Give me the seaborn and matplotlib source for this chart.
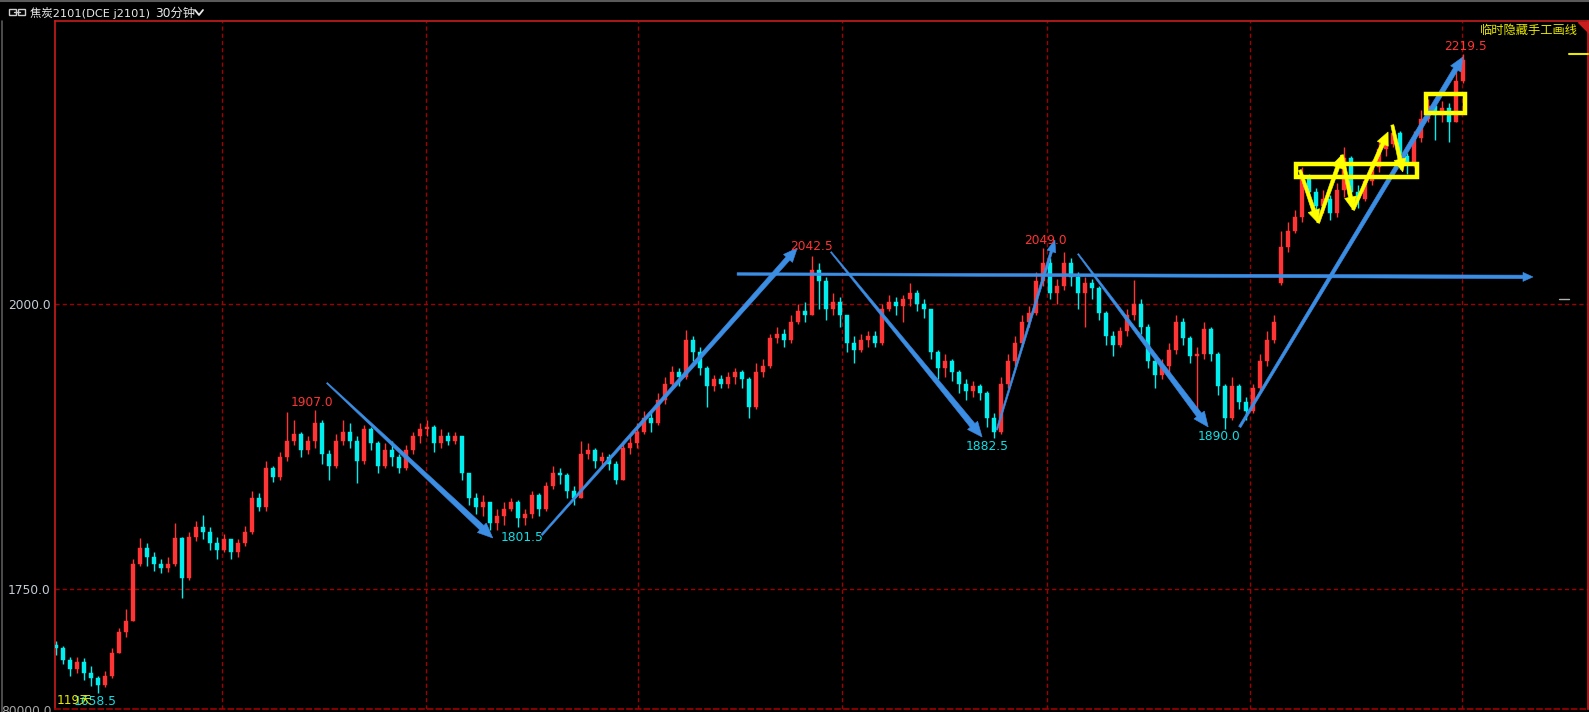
import numpy as np
import matplotlib
matplotlib.use("Agg")
import matplotlib.pyplot as plt
from matplotlib.patches import Polygon, Rectangle
from matplotlib.lines import Line2D
import seaborn as sns

# ---------------- data (30-minute bars, 焦炭2101) ----------------
first_open = 1701
gap_opens = {175: 2018}   # bar that opened with a gap above the previous close
closes = [
    1698, 1688, 1680, 1686, 1676, 1672, 1666, 1674, 1694, 1712,
    1722, 1772, 1786, 1778, 1772, 1768, 1772, 1795, 1760, 1796,
    1804, 1800, 1790, 1784, 1794, 1782, 1790, 1800, 1830, 1822,
    1856, 1848, 1866, 1880, 1886, 1872, 1880, 1896, 1868, 1858,
    1880, 1888, 1880, 1862, 1890, 1878, 1858, 1872, 1866, 1856,
    1872, 1884, 1890, 1892, 1878, 1884, 1880, 1884, 1852, 1830,
    1822, 1826, 1808, 1814, 1820, 1826, 1812, 1816, 1832, 1820,
    1840, 1852, 1850, 1836, 1830, 1868, 1872, 1862, 1866, 1860,
    1846, 1874, 1878, 1888, 1900, 1896, 1916, 1930, 1940, 1936,
    1968, 1958, 1944, 1928, 1934, 1930, 1936, 1940, 1934, 1910,
    1940, 1946, 1970, 1974, 1968, 1984, 1994, 1990, 2030, 2020,
    1996, 2002, 1990, 1966, 1960, 1968, 1972, 1966, 1996, 2002,
    1998, 2004, 2010, 2000, 1996, 1958, 1944, 1950, 1940, 1930,
    1924, 1928, 1922, 1900, 1888, 1930, 1950, 1966, 1984, 1992,
    2020, 2036, 2010, 2016, 2036, 2024, 2010, 2018, 2014, 1992,
    1972, 1964, 1976, 1990, 2000, 1980, 1950, 1938, 1946, 1960,
    1984, 1970, 1954, 1956, 1978, 1956, 1928, 1900, 1928, 1914,
    1906, 1926, 1950, 1968, 1984, 2050, 2064, 2076, 2112, 2098,
    2086, 2092, 2080, 2100, 2128, 2098, 2092, 2108, 2120, 2136,
    2140, 2150, 2130, 2122, 2146, 2162, 2174, 2166, 2172, 2160,
    2196, 2214,
]
highs = [
    1704, 1700, 1690, 1690, 1689, 1682, 1674, 1678, 1698, 1716,
    1732, 1776, 1795, 1790, 1782, 1776, 1778, 1808, 1796, 1800,
    1810, 1815, 1804, 1796, 1798, 1794, 1794, 1805, 1836, 1834,
    1862, 1858, 1870, 1905, 1898, 1888, 1884, 1907, 1898, 1872,
    1886, 1898, 1896, 1884, 1894, 1892, 1880, 1878, 1880, 1868,
    1876, 1888, 1896, 1898, 1894, 1890, 1888, 1888, 1884, 1852,
    1834, 1832, 1826, 1820, 1826, 1830, 1828, 1820, 1836, 1834,
    1844, 1858, 1856, 1852, 1840, 1880, 1878, 1874, 1870, 1868,
    1862, 1880, 1884, 1896, 1906, 1904, 1922, 1936, 1946, 1944,
    1977, 1972, 1962, 1946, 1938, 1938, 1940, 1944, 1942, 1936,
    1948, 1952, 1974, 1980, 1978, 1990, 2000, 2002, 2042.5, 2036,
    2024, 2010, 2006, 1990, 1972, 1974, 1976, 1976, 2000, 2008,
    2006, 2008, 2018, 2012, 2004, 1996, 1960, 1956, 1952, 1942,
    1934, 1932, 1930, 1924, 1904, 1936, 1956, 1972, 1990, 1998,
    2028, 2049, 2040, 2022, 2046, 2040, 2028, 2024, 2022, 2016,
    1994, 1976, 1980, 1996, 2021, 2004, 1982, 1954, 1952, 1966,
    1990, 1988, 1972, 1962, 1984, 1980, 1958, 1930, 1936, 1930,
    1918, 1930, 1956, 1976, 1990, 2064, 2072, 2082, 2120, 2114,
    2102, 2100, 2096, 2106, 2138, 2130, 2104, 2112, 2126, 2142,
    2148, 2156, 2152, 2132, 2152, 2170, 2180, 2178, 2178, 2176,
    2204, 2219.5,
]
lows = [
    1692, 1684, 1674, 1676, 1670, 1665, 1658.5, 1664, 1672, 1694,
    1708, 1722, 1770, 1770, 1766, 1764, 1765, 1770, 1742, 1758,
    1792, 1794, 1784, 1776, 1782, 1776, 1778, 1788, 1798, 1818,
    1818, 1844, 1846, 1862, 1876, 1866, 1868, 1874, 1860, 1846,
    1856, 1876, 1874, 1843, 1860, 1872, 1852, 1856, 1858, 1852,
    1854, 1868, 1878, 1884, 1870, 1874, 1876, 1877, 1846, 1824,
    1816, 1814, 1801.5, 1802, 1806, 1818, 1804, 1806, 1812, 1814,
    1818, 1838, 1842, 1830, 1824, 1830, 1864, 1856, 1856, 1854,
    1842, 1846, 1868, 1874, 1886, 1888, 1894, 1912, 1926, 1928,
    1934, 1950, 1938, 1910, 1924, 1926, 1926, 1930, 1926, 1900,
    1908, 1936, 1944, 1966, 1962, 1966, 1982, 1984, 1990, 1996,
    1986, 1990, 1980, 1958, 1948, 1958, 1962, 1962, 1964, 1994,
    1990, 1984, 1998, 1994, 1988, 1952, 1934, 1936, 1932, 1922,
    1916, 1918, 1916, 1892, 1882.5, 1886, 1926, 1946, 1962, 1980,
    1990, 2016, 2004, 2000, 2012, 2016, 1996, 1980, 2004, 1986,
    1964, 1954, 1962, 1972, 1986, 1974, 1944, 1926, 1934, 1940,
    1956, 1964, 1948, 1904, 1952, 1950, 1920, 1890, 1898, 1908,
    1898, 1904, 1924, 1946, 1966, 2017, 2046, 2062, 2072, 2090,
    2080, 2080, 2074, 2076, 2094, 2086, 2084, 2090, 2104, 2116,
    2130, 2138, 2118, 2114, 2120, 2142, 2160, 2144, 2160, 2142,
    2160, 2194,
]

price_ticks = [1750.0, 2000.0]
session_breaks = [23.7, 52.9, 83.1, 112.3, 141.6, 170.6, 200.9]

# extreme-point labels: text, bar position, price, colour key
point_labels = [
    ("1907.0", 36.6, 1913.2, "up"),
    ("1801.5", 66.6, 1794.7, "dn"),
    ("2042.5", 108.0, 2050.0, "up"),
    ("1882.5", 133.0, 1874.6, "dn"),
    ("2049.0", 141.3, 2055.3, "up"),
    ("1890.0", 166.1, 1883.3, "dn"),
    ("2219.5", 201.4, 2225.4, "up"),
    ("1658.5", 5.6, 1650.9, "dn"),
]

# hand-drawn trend arrows: (x0, p0, x1, p1, w0, w1, head_w, head_l) widths in px
blue_arrows = [
    (38.7, 1930.7, 62.4, 1794.7, 1.2, 6.0, 13, 15),
    (69.4, 1797.4, 105.9, 2049.1, 1.8, 5.0, 12, 14),
    (110.7, 2045.6, 132.3, 1883.3, 1.2, 6.0, 13, 15),
    (134.4, 1889.5, 142.7, 2056.1, 1.5, 2.5, 9, 12),
    (146.0, 2043.9, 164.6, 1892.1, 1.2, 6.0, 13, 15),
    (169.1, 1892.1, 201.0, 2216.7, 2.5, 5.0, 12, 14),
    (97.3, 2026.3, 211.0, 2023.7, 2.5, 3.5, 9, 10),
]
yellow_arrows = [
    (177.7, 2117.5, 180.3, 2071.1, 3.0, 4.0, 12, 13),
    (180.3, 2071.1, 183.7, 2130.7, 3.0, 4.0, 12, 13),
    (183.7, 2130.7, 185.3, 2082.5, 3.0, 4.0, 12, 13),
    (185.3, 2082.5, 190.3, 2150.9, 3.0, 4.0, 12, 13),
    (190.9, 2157.0, 192.4, 2115.8, 3.0, 4.0, 12, 13),
]
yellow_boxes = [
    (177.1, 2111.4, 194.4, 2122.8),
    (195.7, 2167.5, 201.3, 2184.2),
]

# ---------------- style ----------------
UP = "#ff3434"
DN = "#00eeee"
BLUE = "#3b8ee4"
YEL = "#ffff00"
GRID = "#a00000"
BORDER = "#c81e1e"

sns.set_theme(style="dark", rc={"axes.facecolor": "black", "figure.facecolor": "black",
                                "savefig.facecolor": "black", "axes.grid": False})
plt.rcParams["font.family"] = ["DejaVu Sans", "Noto Sans CJK SC"]

W, H = 1589, 712
fig = plt.figure(figsize=(W / 100, H / 100), dpi=100)
ax = fig.add_axes([55 / W, 3 / H, (1588 - 55) / W, (709 - 21) / H])
ax.set_facecolor("black")
ax.set_xlim(-0.143, 218.86)
ax.set_ylim(1644.7, 2248.2)


def fx(px):
    return px / W


def fy(py):
    return 1 - py / H


# grid
for p in price_ticks:
    ax.axhline(p, color=GRID, lw=1, dashes=(3, 2.2), zorder=1)
for b in session_breaks:
    ax.axvline(b, color=GRID, lw=1, dashes=(3, 2.2), zorder=1)

# candles
idx = np.arange(len(closes))
opens = np.array([first_open] + closes[:-1], dtype=float)
for k, v in gap_opens.items():
    opens[k] = v
c = np.array(closes, dtype=float)
hi = np.array(highs, dtype=float)
lo = np.array(lows, dtype=float)
cols = np.where(c > opens, UP, np.where(c < opens, DN, "#ffffff"))
ax.vlines(idx, lo, hi, colors=cols, lw=1.0, zorder=2)
body = np.where(np.abs(c - opens) < 0.6, 0.6, c - opens)
ax.bar(idx, body, bottom=opens, width=0.7, color=cols, edgecolor=cols, lw=0.3, zorder=3)

fig.canvas.draw()
T = ax.transData
TI = T.inverted()


def tapered_arrow(x0, y0, x1, y1, w0, w1, hw, hl, color, z):
    p0 = np.array(T.transform((x0, y0)))
    p1 = np.array(T.transform((x1, y1)))
    d = p1 - p0
    L = np.hypot(*d)
    u = d / L
    n = np.array([-u[1], u[0]])
    pb = p1 - u * hl
    pts = [p0 + n * w0 / 2, pb + n * w1 / 2, pb + n * hw / 2, p1,
           pb - n * hw / 2, pb - n * w1 / 2, p0 - n * w0 / 2]
    ax.add_patch(Polygon(TI.transform(pts), closed=True, fc=color, ec=color,
                         lw=0.4, zorder=z, clip_on=False))


for a in blue_arrows:
    tapered_arrow(*a, color=BLUE, z=5)
for a in yellow_arrows:
    tapered_arrow(*a, color=YEL, z=6)
for (x0, p0, x1, p1) in yellow_boxes:
    ax.add_patch(Rectangle((x0, p0), x1 - x0, p1 - p0, fill=False, ec=YEL, lw=3.2, zorder=6))

# point labels
for txt, xb, pr, k in point_labels:
    ax.text(xb, pr, txt, color=UP if k == "up" else "#10e0e8", fontsize=8.8,
            ha="center", va="center", zorder=7)
ax.text(0.1, 1652.6, "119天", color="#e8e800", fontsize=8.8, ha="left", va="center", zorder=7)

# axes frame
for s in ["top", "left", "right"]:
    ax.spines[s].set_color(BORDER)
    ax.spines[s].set_linewidth(1.2)
ax.spines["bottom"].set_color(GRID)
ax.spines["bottom"].set_linestyle((0, (3, 2.2)))
ax.spines["bottom"].set_linewidth(1.2)
ax.set_xticks([])
ax.set_yticks(price_ticks)
ax.set_yticklabels([f"{p:.1f}" for p in price_ticks], color="#c4ccd6", fontsize=8.8)
ax.tick_params(axis="y", length=0, pad=3)
ax.set_xlabel("")
ax.set_ylabel("")

# header & decorations
fig.add_artist(Line2D([0, 1], [fy(1), fy(1)], color="#5a5a5a", lw=1.5))
fig.add_artist(Line2D([fx(2), fx(2)], [fy(21), 0], color="#5a5a5a", lw=1.2))
fig.add_artist(Rectangle((fx(9), fy(15)), fx(7), 6 / H, fill=False, ec="#d0d0d0", lw=1))
fig.add_artist(Rectangle((fx(18), fy(15)), fx(7), 6 / H, fill=False, ec="#d0d0d0", lw=1))
fig.add_artist(Line2D([fx(14), fx(20)], [fy(12), fy(12)], color="#d0d0d0", lw=1))
fig.text(fx(30), fy(13), "焦炭2101(DCE j2101)", color="#e8e8e8", fontsize=8.2, ha="left", va="center")
fig.text(fx(155), fy(13), "30分钟", color="#e8e8e8", fontsize=8.8, ha="left", va="center")
fig.add_artist(Line2D([fx(195), fx(199), fx(203)], [fy(10), fy(15), fy(10)], color="#e8e8e8", lw=1.3))
fig.text(fx(1578), fy(30), "临时隐藏手工画线", color="#e8e800", fontsize=8.8, ha="right", va="center")
fig.add_artist(Polygon([[fx(1578), fy(22)], [fx(1589), fy(22)], [fx(1589), fy(33)]], closed=True,
                       fc=BORDER, ec=BORDER))
fig.add_artist(Line2D([fx(1569), fx(1588)], [fy(54), fy(54)], color="#e8e800", lw=1.5))
fig.add_artist(Line2D([fx(1559), fx(1569)], [fy(299), fy(299)], color="#b0b0b0", lw=1))
fig.text(fx(52), fy(705), "80000.0", color="#a8a8a8", fontsize=8.8, ha="right", va="top")

fig.savefig("out.png", dpi=100, facecolor="black")
